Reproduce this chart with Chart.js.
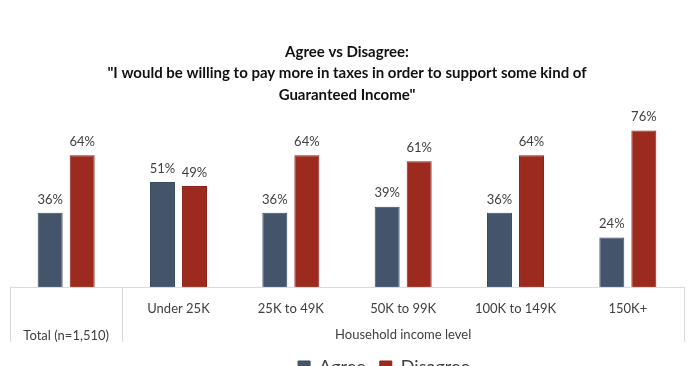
<!DOCTYPE html>
<html>
<head>
<meta charset="utf-8">
<script src="https://cdn.jsdelivr.net/npm/chart.js@4"></script>
<style>
  html, body { margin: 0; padding: 0; background: #fff; overflow: hidden; }
  #wrap { width: 692px; height: 399px; }
</style>
</head>
<body>
<div id="wrap"><canvas id="chart"></canvas></div>
<script>
const categories = [['', 'Total (n=1,510)'], 'Under 25K', '25K to 49K', '50K to 99K', '100K to 149K', '150K+'];
const agree = [36, 51, 36, 39, 36, 24];
const disagree = [64, 49, 64, 61, 64, 76];
const groupLabel = 'Household income level';

const fontFamily = 'Lato, "Open Sans", sans-serif';

// value labels above each bar
const barLabels = {
    id: 'barLabels',
    afterDatasetsDraw(chart) {
        const ctx = chart.ctx;
        ctx.save();
        ctx.font = '13px ' + fontFamily;
        ctx.fillStyle = '#404040';
        ctx.textAlign = 'center';
        ctx.textBaseline = 'bottom';
        chart.data.datasets.forEach((ds, i) => {
            chart.getDatasetMeta(i).data.forEach((bar, j) => {
                ctx.fillText(ds.data[j] + '%', bar.x, bar.y - 7);
            });
        });
        ctx.restore();
    }
};

// table-like lines under the bars + group label
const tableLines = {
    id: 'tableLines',
    afterLayout(chart) {
        // legend in the original sits right of centre and half cut off
        chart.legend.left += 37;
        chart.legend.right += 37;
        chart.legend.top -= 13;
        chart.legend.bottom -= 13;
    },
    afterDraw(chart) {
        const ctx = chart.ctx;
        const x = chart.scales.x;
        const area = chart.chartArea;
        const base = chart.scales.y.getPixelForValue(0);
        const bottom = base + 55;
        const div = (x.getPixelForValue(0) + x.getPixelForValue(1)) / 2;
        ctx.save();
        ctx.strokeStyle = '#d9d9d9';
        ctx.lineWidth = 1;
        ctx.beginPath();
        ctx.moveTo(area.left, base + 0.5);
        ctx.lineTo(area.right, base + 0.5);
        [area.left, div, area.right].forEach(px => {
            ctx.moveTo(Math.round(px) + 0.5, base);
            ctx.lineTo(Math.round(px) + 0.5, bottom);
        });
        ctx.stroke();
        ctx.font = '13px ' + fontFamily;
        ctx.fillStyle = '#404040';
        ctx.textAlign = 'center';
        ctx.textBaseline = 'middle';
        ctx.fillText(groupLabel, (div + area.right) / 2, base + 48);
        ctx.restore();
    }
};

const ctx = document.getElementById('chart').getContext('2d');
const chart = new Chart(ctx, {
    type: 'bar',
    data: {
        labels: categories,
        datasets: [{
            label: 'Agree',
            data: agree,
            backgroundColor: '#44546a',
            borderColor: '#3a4a60',
            borderWidth: 1
        }, {
            label: 'Disagree',
            data: disagree,
            backgroundColor: '#9c2a1e',
            borderColor: '#8a2318',
            borderWidth: 1
        }]
    },
    options: {
        responsive: true,
        maintainAspectRatio: false,
        animation: false,
        layout: { padding: { left: 10, right: 8 } },
        datasets: {
            bar: { categoryPercentage: 0.57, barPercentage: 0.78 }
        },
        plugins: {
            title: {
                display: true,
                text: ['Agree vs Disagree:', '"I would be willing to pay more in taxes in order to support some kind of', 'Guaranteed Income"'],
                color: '#111',
                font: { family: fontFamily, size: 15, weight: 'bold', lineHeight: 1.45 },
                padding: { top: 41, bottom: 16 }
            },
            legend: {
                position: 'bottom',
                labels: {
                    color: '#404040',
                    boxWidth: 12,
                    boxHeight: 12,
                    padding: 14,
                    font: { family: fontFamily, size: 18 }
                }
            },
            tooltip: { enabled: false }
        },
        scales: {
            x: {
                grid: { display: false, drawTicks: false },
                border: { display: false },
                ticks: {
                    color: '#404040',
                    padding: 8,
                    maxRotation: 0,
                    font: { family: fontFamily, size: 13, lineHeight: 2.08 }
                }
            },
            y: {
                display: false,
                min: 0,
                max: 80
            }
        }
    },
    plugins: [barLabels, tableLines]
});
</script>
</body>
</html>
